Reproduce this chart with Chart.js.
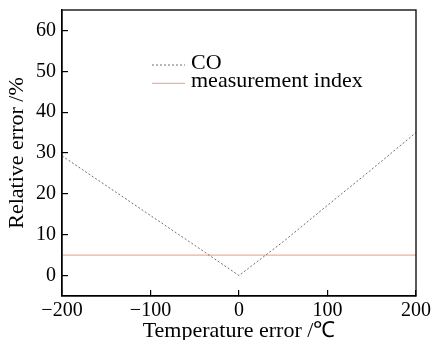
<!DOCTYPE html>
<html><head><meta charset="utf-8">
<script src="https://cdn.jsdelivr.net/npm/chart.js@4"></script>
<style>html,body{margin:0;padding:0;background:#fff}#wrap{width:432px;height:340px}</style>
</head><body><div id="wrap"><canvas id="c" width="432" height="340"></canvas></div>
<script>
const tempError = [-200, -150, -100, -50, 0, 50, 100, 150, 200];
const coError = [29.3, 22.0, 14.7, 7.4, 0, 8.3, 17.2, 26.0, 35.0];
const indexTemp = [-200, 200];
const indexError = [5, 5];
const xTicks = [-200, -100, 0, 100, 200];
const yTicks = [0, 10, 20, 30, 40, 50, 60];
const seriesNames = ['CO', 'measurement index'];
const xTitle = 'Temperature error /℃';
const yTitle = 'Relative error /%';

const FONT = "'Liberation Serif', 'Times New Roman', serif";

const frame = {
  id: 'frame',
  afterDatasetsDraw(chart) {
    const {ctx, chartArea: a} = chart;
    ctx.save();
    ctx.strokeStyle = '#000';
    ctx.lineWidth = 1.3;
    ctx.strokeRect(a.left, a.top, a.right - a.left, a.bottom - a.top);
    ctx.restore();
  }
};

const inLegend = {
  id: 'inLegend',
  afterDraw(chart) {
    const ctx = chart.ctx;
    ctx.save();
    chart.data.datasets.forEach((d, i) => {
      const y = 65 + i * 18.3;
      ctx.beginPath();
      ctx.strokeStyle = d.borderColor;
      ctx.lineWidth = d.borderWidth;
      ctx.setLineDash(d.borderDash || []);
      ctx.moveTo(152, y);
      ctx.lineTo(185, y);
      ctx.stroke();
      ctx.setLineDash([]);
      ctx.fillStyle = '#000';
      ctx.font = "22px " + FONT;
      ctx.textBaseline = 'alphabetic';
      ctx.textAlign = 'left';
      ctx.fillText(d.label, 191, y + 3.5);
    });
    ctx.restore();
  }
};

const fmt = v => String(v).replace('-', '\u2212');

new Chart(document.getElementById('c'), {
  type: 'line',
  data: {
    datasets: [
      {
        label: seriesNames[0],
        data: tempError.map((t, i) => ({x: t, y: coError[i]})),
        borderColor: '#6e6e6e',
        borderWidth: 1,
        borderDash: [2, 2],
        pointRadius: 0,
        fill: false,
        tension: 0
      },
      {
        label: seriesNames[1],
        data: indexTemp.map((t, i) => ({x: t, y: indexError[i]})),
        borderColor: 'rgb(244,172,150)',
        borderWidth: 1.2,
        pointRadius: 0,
        fill: false
      }
    ]
  },
  options: {
    responsive: false,
    animation: false,
    devicePixelRatio: 1,
    layout: {padding: {left: 0, right: 16, top: 10, bottom: 0}},
    plugins: {legend: {display: false}, tooltip: {enabled: false}},
    scales: {
      x: {
        type: 'linear',
        min: -200, max: 200,
        afterBuildTicks: s => { s.ticks = xTicks.map(v => ({value: v})); },
        afterFit: s => { s.height = 44; s.paddingLeft = 0; s.paddingRight = 0; },
        grid: {drawOnChartArea: false, drawTicks: true, tickLength: -6, color: '#000', lineWidth: 1.2},
        border: {display: true, color: '#000', width: 1.3},
        ticks: {color: '#000', font: {family: FONT, size: 20}, padding: 9, maxRotation: 0, autoSkip: false, callback: v => fmt(v)},
        title: {display: true, text: xTitle, color: '#000', font: {family: FONT, size: 22}, padding: {top: 0, bottom: -4}}
      },
      y: {
        type: 'linear',
        min: -5, max: 65,
        afterBuildTicks: s => { s.ticks = yTicks.map(v => ({value: v})); },
        afterFit: s => { s.width = 62; s.paddingTop = 0; s.paddingBottom = 0; },
        grid: {drawOnChartArea: false, drawTicks: true, tickLength: -6, color: '#000', lineWidth: 1.2},
        border: {display: true, color: '#000', width: 1.3},
        ticks: {color: '#000', font: {family: FONT, size: 20}, padding: 12, autoSkip: false, callback: v => fmt(v)},
        title: {display: true, text: yTitle, color: '#000', font: {family: FONT, size: 22}, padding: {top: 4, bottom: 0}}
      }
    }
  },
  plugins: [frame, inLegend]
});
</script>
</body></html>
